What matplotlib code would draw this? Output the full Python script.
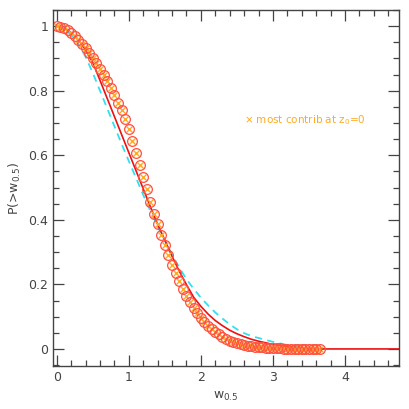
import numpy as np
import matplotlib
matplotlib.use('Agg')
import matplotlib.pyplot as plt
from matplotlib.ticker import MultipleLocator

# measured points (circles / crosses)
w_pts = np.round(np.arange(0, 3.66, 0.05), 2)
p_pts = [1.000, 0.998, 0.994, 0.987, 0.978, 0.968, 0.957, 0.945, 0.932, 0.918,
         0.902, 0.886, 0.868, 0.849, 0.829, 0.808, 0.786, 0.762, 0.740, 0.713,
         0.680, 0.643, 0.606, 0.569, 0.532, 0.494, 0.456, 0.419, 0.386, 0.354,
         0.322, 0.290, 0.261, 0.234, 0.209, 0.186, 0.165, 0.146, 0.128, 0.112,
         0.097, 0.084, 0.072, 0.062, 0.053, 0.045, 0.038, 0.032, 0.026, 0.022,
         0.018, 0.015, 0.012, 0.010, 0.008, 0.007, 0.006, 0.005, 0.004, 0.003,
         0.003, 0.002, 0.002, 0.001, 0.001, 0.001, 0.001, 0.000, 0.000, 0.000,
         0.000, 0.000, 0.000, 0.000]

# red solid model
w_red = [0.0, 0.1, 0.2, 0.3, 0.4, 0.5, 0.6, 0.7, 0.8, 0.9, 1.0, 1.1, 1.2, 1.3,
         1.4, 1.5, 1.6, 1.7, 1.8, 1.9, 2.0, 2.1, 2.2, 2.3, 2.4, 2.5, 2.6, 2.7,
         2.8, 2.9, 3.0, 3.1, 3.2, 3.3, 3.4, 3.5, 3.6, 4.75]
p_red = [1.000, 0.995, 0.980, 0.957, 0.927, 0.887, 0.832, 0.776, 0.720, 0.664,
         0.608, 0.552, 0.496, 0.440, 0.386, 0.337, 0.287, 0.241, 0.199, 0.160,
         0.132, 0.108, 0.088, 0.072, 0.058, 0.047, 0.038, 0.030, 0.024, 0.019,
         0.014, 0.011, 0.008, 0.005, 0.003, 0.001, 0.000, 0.000]

# cyan dashed model
w_cyan = [0.0, 0.1, 0.2, 0.3, 0.4, 0.5, 0.6, 0.7, 0.8, 0.9, 1.0, 1.1, 1.2, 1.3,
          1.4, 1.5, 1.6, 1.7, 1.8, 1.9, 2.0, 2.1, 2.2, 2.3, 2.4, 2.5, 2.6, 2.7,
          2.8, 2.9, 3.0, 3.1, 3.2, 3.3, 3.4, 3.5, 3.6, 3.7]
p_cyan = [1.000, 0.992, 0.972, 0.944, 0.905, 0.855, 0.800, 0.745, 0.690, 0.635,
          0.582, 0.530, 0.477, 0.427, 0.380, 0.336, 0.292, 0.252, 0.216, 0.186,
          0.159, 0.135, 0.113, 0.094, 0.076, 0.061, 0.049, 0.040, 0.034, 0.028,
          0.022, 0.017, 0.012, 0.008, 0.004, 0.002, 0.000, 0.000]

fig = plt.figure(figsize=(4.09, 4.09), dpi=100)
ax = fig.add_axes([0.130, 0.105, 0.8456, 0.8706])

ax.plot(w_cyan, p_cyan, color='#33e0f0', lw=1.3, ls=(0, (4, 3)))
ax.plot(w_red, p_red, color='#ee1111', lw=1.2)
ax.plot(w_pts, p_pts, ls='none', marker='x', ms=5, color='#ffaa22', mew=1.0)
ax.plot(w_pts, p_pts, ls='none', marker='o', ms=7, mfc='none',
        mec='#ff5040', mew=0.9)

ax.text(2.6, 0.71, '\u00d7 most contrib at z$_0$=0', color='#ffaa22',
        fontsize=7.5, va='center', ha='left')

ax.set_xlim(-0.05, 4.75)
ax.set_ylim(-0.053, 1.05)
ax.xaxis.set_major_locator(MultipleLocator(1))
ax.xaxis.set_minor_locator(MultipleLocator(0.2))
ax.yaxis.set_major_locator(MultipleLocator(0.2))
ax.yaxis.set_minor_locator(MultipleLocator(0.05))
ax.set_yticks([0, 0.2, 0.4, 0.6, 0.8, 1.0], ['0', '0.2', '0.4', '0.6', '0.8', '1'])
ax.tick_params(which='both', direction='in', top=True, right=True,
               colors='#444444', labelsize=9)
ax.tick_params(which='major', length=8, width=0.9)
ax.tick_params(which='minor', length=4, width=0.9)
for s in ax.spines.values():
    s.set_color('#444444')
    s.set_linewidth(1.0)

ax.set_xlabel('w$_{0.5}$', fontsize=9, color='#444444')
ax.set_ylabel('P(>w$_{0.5}$)', fontsize=9, color='#444444')

fig.savefig('out.png', dpi=100)
